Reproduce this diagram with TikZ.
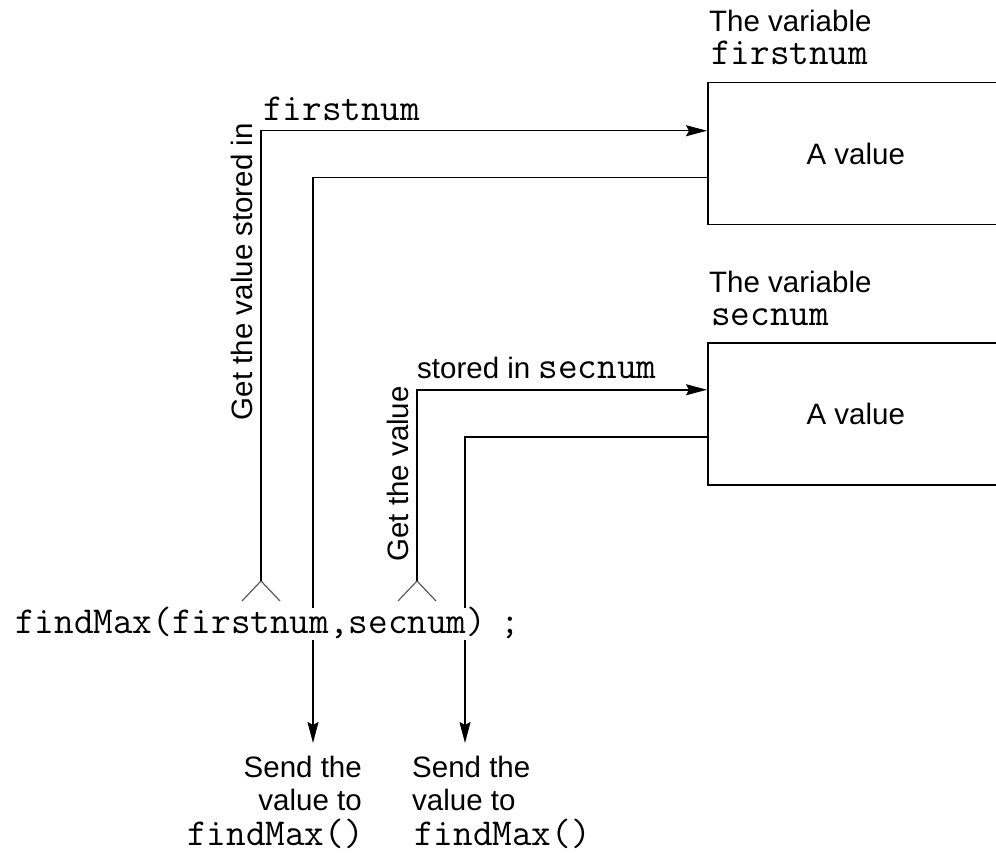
\documentclass[tikz,border=0pt]{standalone}
\usepackage{fontspec}
\setmainfont{Liberation Sans}
\usetikzlibrary{arrows.meta}
\newcommand\sansz{\rmfamily\fontsize{29.5}{34}\selectfont}
\newcommand\monosz{\ttfamily\fontsize{38.1}{34}\selectfont}
\begin{document}
\begin{tikzpicture}[x=1pt,y=-1pt,
  lbl/.style={inner sep=0, font=\sansz},
  code/.style={inner sep=0, font=\monosz},
  conn/.style={line width=1.5pt},
  tip/.style={-{Stealth[length=21pt,width=11pt,inset=3pt]}},
  forkline/.style={line width=1.2pt, draw=black!65},
  varbox/.style={draw, line width=1.5pt, minimum width=296pt, minimum height=142pt,
                 anchor=north west, inner sep=0, font=\sansz}]
\useasboundingbox (0,0) rectangle (996,853);

% variable boxes
\node[varbox] (box1) at (707,82) {A value};
\node[varbox] (box2) at (707,342) {A value};
\node[lbl, anchor=base west] (v1a) at (709,32) {The variable};
\node[code, anchor=base west] (v1b) at (711,65) {firstnum};
\node[lbl, anchor=base west] (v2a) at (709,292) {The variable};
\node[code, anchor=base west] (v2b) at (711,325) {secnum};

% the call
\node[code, anchor=base west] (call) at (15,633) {findMax(firstnum,secnum)\hspace{14pt};};

% coordinates
\coordinate (f1) at (261,581);
\coordinate (f2) at (417,581);
\coordinate (r1) at (313,608);
\coordinate (r2) at (465,608);
\coordinate (s1) at (313,640);
\coordinate (s2) at (465,640);
\coordinate (d1) at (313,743);
\coordinate (d2) at (465,743);

% connectors
\draw[conn,tip] (f1) |- ([yshift=23pt]box1.west);
\draw[conn] ([yshift=-24pt]box1.west) -| (r1);
\draw[conn,tip] (s1) -- (d1);
\draw[conn,tip] (f2) |- ([yshift=24pt]box2.west);
\draw[conn] ([yshift=-23pt]box2.west) -| (r2);
\draw[conn,tip] (s2) -- (d2);

% forks
\draw[forkline] (f1) -- ++(-19,20);
\draw[forkline] (f1) -- ++(19,20);
\draw[forkline] (f2) -- ++(-19,20);
\draw[forkline] (f2) -- ++(19,20);

% labels on connectors
\node[code, anchor=base west] (lab1) at (263,121) {firstnum};
\node[lbl, anchor=base west] (lab2) at (417,378) {stored in {\monosz secnum}};
\node[lbl, rotate=90, anchor=base east] (rot1) at (252,123) {Get the value stored in};
\node[lbl, rotate=90, anchor=base east] (rot2) at (408,386) {Get the value};

% bottom texts
\node[lbl, anchor=base east] (t1a) at (362,777) {Send the};
\node[lbl, anchor=base east] (t1b) at (362,810) {value to};
\node[code, anchor=base east] (t1c) at (364,845) {findMax()};
\node[lbl, anchor=base west] (t2a) at (412,777) {Send the};
\node[lbl, anchor=base west] (t2b) at (412,810) {value to};
\node[code, anchor=base west] (t2c) at (414,845) {findMax()};
\end{tikzpicture}
\end{document}
